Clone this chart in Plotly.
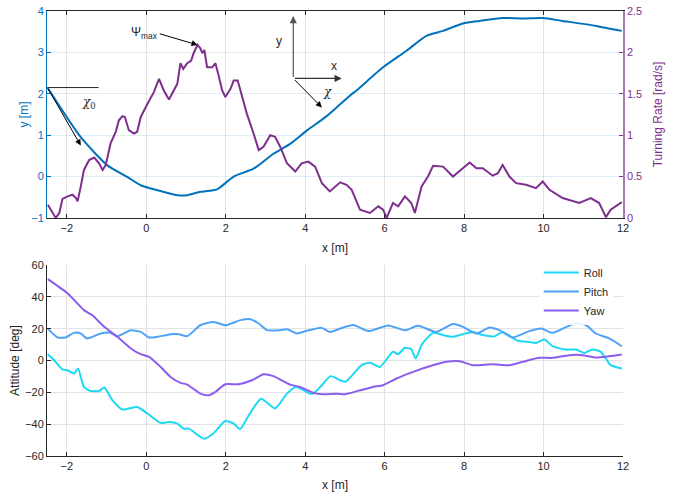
import plotly.graph_objects as go

# ---------------- data: top plot ----------------
traj_x = [-2.49, -1.65, -0.98, -0.48, -0.14, 0.28, 0.78, 1.03, 1.36, 1.78, 2.2, 2.7, 3.2, 3.62,
          4.04, 4.54, 5.13, 5.29, 5.96, 6.55, 7.05, 7.47, 7.97, 8.39, 8.97, 9.48, 9.98, 10.48,
          11.32, 11.97]
traj_y = [2.15, 0.95, 0.27, -0.01, -0.21, -0.33, -0.45, -0.45, -0.37, -0.31, 0.0, 0.19, 0.55, 0.79,
          1.11, 1.46, 1.96, 2.08, 2.64, 3.04, 3.40, 3.52, 3.70, 3.76, 3.83, 3.82, 3.83, 3.76,
          3.64, 3.52]

rate_x = [-2.48, -2.36, -2.28, -2.19, -2.11, -1.98, -1.86, -1.77, -1.73, -1.65, -1.57, -1.44, -1.31,
          -1.19, -1.10, -1.02, -0.90, -0.77, -0.69, -0.60, -0.54, -0.44, -0.31, -0.23, -0.14, 0.03,
          0.19, 0.32, 0.44, 0.57, 0.69, 0.78, 0.86, 0.93, 1.03, 1.13, 1.19, 1.29, 1.36, 1.41, 1.46,
          1.53, 1.66, 1.74, 1.82, 1.91, 1.99, 2.12, 2.20, 2.30, 2.37, 2.53, 2.70, 2.83, 2.95, 3.12,
          3.24, 3.37, 3.54, 3.75, 3.91, 4.08, 4.25, 4.42, 4.62, 4.88, 5.04, 5.17, 5.38, 5.63, 5.84,
          5.96, 6.05, 6.21, 6.34, 6.51, 6.67, 6.76, 6.93, 7.09, 7.22, 7.47, 7.72, 7.97, 8.14, 8.31,
          8.47, 8.72, 8.85, 8.97, 9.14, 9.31, 9.56, 9.81, 9.98, 10.15, 10.48, 10.90, 11.19, 11.40,
          11.57, 11.69, 11.97]
rate_v = [0.16, 0.06, 0.00, 0.06, 0.23, 0.26, 0.28, 0.24, 0.20, 0.38, 0.58, 0.70, 0.73,
          0.66, 0.58, 0.64, 0.90, 1.04, 1.18, 1.23, 1.22, 1.06, 1.02, 1.04, 1.22, 1.38,
          1.52, 1.68, 1.54, 1.43, 1.54, 1.62, 1.87, 1.80, 1.87, 1.90, 1.99, 2.09, 2.05, 1.99, 2.03,
          1.82, 1.82, 1.87, 1.72, 1.54, 1.46, 1.56, 1.66, 1.66, 1.54, 1.26, 1.02, 0.82, 0.86, 1.00,
          0.98, 0.86, 0.66, 0.56, 0.66, 0.68, 0.62, 0.42, 0.32, 0.43, 0.40, 0.34, 0.10, 0.06, 0.14,
          0.10, 0.00, 0.18, 0.14, 0.26, 0.18, 0.06, 0.38, 0.50, 0.63, 0.62, 0.50, 0.60, 0.67, 0.60,
          0.60, 0.51, 0.54, 0.64, 0.50, 0.42, 0.40, 0.36, 0.44, 0.34, 0.24, 0.18, 0.24, 0.18,
          0.01, 0.10, 0.19]

# ---------------- data: bottom plot ----------------
yaw_x = [-2.48, -1.98, -1.57, -1.36, -1.06, -0.73, -0.39, -0.14, 0.07, 0.36, 0.61, 0.86, 1.03,
         1.36, 1.57, 1.74, 1.99, 2.32, 2.66, 2.95, 3.20, 3.62, 3.87, 4.21, 4.46, 4.79, 5.0, 5.38,
         5.71, 5.96, 6.30, 6.72, 7.13, 7.55, 7.89, 8.22, 8.72, 9.14, 9.48, 9.89, 10.23, 10.65,
         10.98, 11.32, 11.65, 11.97]
yaw_v = [51.2, 42.2, 31.7, 28.5, 21.2, 14.9, 7.6, 4.0, 2.3, -4.0, -10.3, -14.0, -15.1,
         -20.8, -21.8, -19.7, -14.9, -14.9, -12.4, -8.6, -9.8, -15.1, -16.6, -20.3, -21.2, -20.8,
         -21.2, -18.7, -16.6, -15.5, -11.3, -7.1, -3.6, -0.8, -0.4, -2.9, -2.3, -2.9, -0.8, 1.7,
         1.7, 3.4, 3.4, 1.9, 2.7, 3.8]

pitch_x = [-2.48, -2.23, -2.03, -1.82, -1.65, -1.49, -1.15, -0.90, -0.73, -0.39, -0.14, 0.07, 0.28,
           0.61, 0.82, 1.03, 1.36, 1.70, 1.99, 2.37, 2.62, 2.83, 3.04, 3.37, 3.54, 3.79, 4.04,
           4.41, 4.62, 4.88, 5.21, 5.59, 6.09, 6.51, 6.84, 7.30, 7.72, 7.97, 8.31, 8.64, 8.89,
           9.22, 9.64, 9.94, 10.23, 10.78, 11.07, 11.32, 11.65, 11.97]
pitch_v = [20.1, 14.5, 14.5, 17.4, 17.0, 13.9, 17.0, 17.4, 15.3, 19.1, 18.0, 14.5, 14.9,
           16.6, 16.6, 15.3, 22.2, 24.3, 22.2, 25.4, 26.0, 23.3, 19.1, 19.1, 19.7, 17.0, 18.7,
           20.6, 18.0, 20.1, 22.3, 18.5, 22.1, 19.0, 21.8, 18.0, 22.9, 21.2, 17.0, 20.8, 19.1,
           14.5, 18.5, 20.1, 17.4, 23.3, 22.2, 17.0, 13.9, 9.0]

roll_x = [-2.48, -2.32, -2.11, -1.98, -1.82, -1.72, -1.57, -1.40, -1.19, -1.06, -0.85, -0.60, -0.23,
          0.03, 0.36, 0.57, 0.78, 0.94, 1.07, 1.45, 1.70, 1.99, 2.20, 2.36, 2.58, 2.89, 3.24,
          3.54, 3.77, 4.17, 4.42, 4.64, 4.88, 5.02, 5.42, 5.63, 5.88, 6.21, 6.34, 6.51, 6.67,
          6.78, 6.95, 7.22, 7.47, 7.72, 7.97, 8.22, 8.47, 8.77, 8.97, 9.35, 9.64, 9.81, 10.02,
          10.23, 10.56, 10.82, 11.03, 11.23, 11.44, 11.57, 11.69, 11.97]
roll_v = [4.0, 0.2, -5.6, -6.1, -8.2, -5.0, -16.6, -19.1, -19.1, -17.0, -25.0, -30.8, -29.2,
          -33.3, -39.2, -38.6, -39.6, -42.8, -42.8, -49.1, -45.5, -38.0, -39.6, -43.1, -34.4, -24.0,
          -30.1, -20.8, -16.4, -21.1, -15.5, -9.8, -12.4, -13.3, -2.9, -1.4, -4.0, 5.5, 4.0, 8.0,
          7.1, 1.3, 10.6, 17.4, 16.0, 14.9, 16.6, 18.0, 16.0, 15.3, 18.0, 12.4, 11.7, 11.1, 13.2,
          9.0, 6.9, 6.9, 4.8, 6.9, 5.5, 1.3, -2.9, -5.0]

x_ticks = [-2, 0, 2, 4, 6, 8, 10, 12]
y_ticks = [-1, 0, 1, 2, 3, 4]
rate_ticks = [0, 0.5, 1, 1.5, 2, 2.5]
att_ticks = [-60, -40, -20, 0, 20, 40, 60]

BLUE = "#0072BD"
PURPLE = "#7E2F8E"
DARK = "#262626"
GRID = "#e3e3e3"
FONT = "Liberation Sans"

fig = go.Figure()

fig.add_trace(go.Scatter(x=traj_x, y=traj_y, mode="lines", line=dict(color=BLUE, width=2, shape="spline", smoothing=0.6),
                         xaxis="x", yaxis="y", showlegend=False))
fig.add_trace(go.Scatter(x=rate_x, y=rate_v, mode="lines", line=dict(color=PURPLE, width=2),
                         xaxis="x", yaxis="y2", showlegend=False))

fig.add_trace(go.Scatter(x=roll_x, y=roll_v, mode="lines", name="Roll",
                         line=dict(color="#1BD9F2", width=2, shape="spline", smoothing=0.6),
                         xaxis="x2", yaxis="y3"))
fig.add_trace(go.Scatter(x=pitch_x, y=pitch_v, mode="lines", name="Pitch",
                         line=dict(color="#4FA3F7", width=2, shape="spline", smoothing=0.6),
                         xaxis="x2", yaxis="y3"))
fig.add_trace(go.Scatter(x=yaw_x, y=yaw_v, mode="lines", name="Yaw",
                         line=dict(color="#8A5DF0", width=2, shape="spline", smoothing=0.6),
                         xaxis="x2", yaxis="y3"))

tickfont = dict(family=FONT, size=11, color=DARK)
top_dom = [0.535, 1.0]
bot_dom = [0.0, 0.429]

fig.update_layout(
    width=684, height=494,
    margin=dict(l=47, r=61, t=11, b=38, autoexpand=False),
    paper_bgcolor="white", plot_bgcolor="white",
    font=dict(family=FONT, size=11, color=DARK),
    xaxis=dict(domain=[0, 1], anchor="y", range=[-2.5, 12], tickvals=x_ticks, automargin=False,
               showgrid=True, gridcolor=GRID, zeroline=False,
               showline=True, linecolor=DARK, linewidth=1, mirror="ticks",
               ticks="inside", ticklen=4, tickcolor=DARK, tickfont=tickfont,
               ticklabeloverflow="allow",
               title=dict(text="x [m]", font=dict(family=FONT, size=12, color=DARK), standoff=10)),
    yaxis=dict(domain=top_dom, anchor="x", range=[-1, 4], tickvals=y_ticks, automargin=False,
               showgrid=True, gridcolor="rgba(0,114,189,0.13)", zeroline=False,
               showline=True, linecolor=BLUE, linewidth=1,
               ticks="inside", ticklen=4, tickcolor=BLUE,
               tickfont=dict(family=FONT, size=11, color=BLUE),
               ticklabeloverflow="allow",
               title=dict(text="y [m]", font=dict(family=FONT, size=12, color=BLUE), standoff=0)),
    yaxis2=dict(overlaying="y", side="right", anchor="x", range=[0, 2.5], tickvals=rate_ticks, automargin=False,
                showgrid=False, zeroline=False,
                showline=True, linecolor="#A77AB3", linewidth=1.5,
                ticks="inside", ticklen=4, tickcolor=PURPLE,
                tickfont=dict(family=FONT, size=11, color=PURPLE),
                ticklabeloverflow="allow",
                title=dict(text="Turning Rate [rad/s]", font=dict(family=FONT, size=12, color=PURPLE), standoff=12)),
    xaxis2=dict(domain=[0, 1], anchor="y3", range=[-2.5, 12], tickvals=x_ticks, automargin=False,
                showgrid=True, gridcolor=GRID, zeroline=False,
                showline=True, linecolor=DARK, linewidth=1,
                ticks="inside", ticklen=4, tickcolor=DARK, tickfont=tickfont,
                ticklabeloverflow="allow",
                title=dict(text="x [m]", font=dict(family=FONT, size=12, color=DARK), standoff=9)),
    yaxis3=dict(domain=bot_dom, anchor="x2", range=[-60, 60], tickvals=att_ticks, automargin=False,
                showgrid=True, gridcolor=GRID, zeroline=False,
                showline=True, linecolor=DARK, linewidth=1,
                ticks="inside", ticklen=4, tickcolor=DARK, tickfont=tickfont,
                ticklabeloverflow="allow",
                title=dict(text="Attitude [deg]", font=dict(family=FONT, size=12, color=DARK), standoff=2)),
    legend=dict(x=0.984, y=0.445, xanchor="right", yanchor="top",
                bgcolor="rgba(255,255,255,0.9)", borderwidth=0,
                font=dict(family=FONT, size=11, color=DARK), tracegroupgap=0,
                itemwidth=35),
)

# ---- annotations on top plot ----
imax = rate_v.index(max(rate_v))
arrow = dict(showarrow=True, arrowhead=2, arrowsize=1.2, arrowwidth=1, arrowcolor="black",
             axref="x", ayref="y2", xref="x", yref="y2", text="")
# Psi_max arrow (in turning-rate coordinates)
fig.add_annotation(**arrow, x=rate_x[imax], y=rate_v[imax], ax=0.3, ay=2.23)
fig.add_annotation(x=-0.05, y=2.24, xref="x", yref="y2", showarrow=False,
                   text="Ψ<sub>max</sub>", font=dict(family=FONT, size=12, color=DARK))

arrow_y = dict(showarrow=True, arrowhead=2, arrowsize=1.2, arrowwidth=1, arrowcolor="black",
               axref="x", ayref="y", xref="x", yref="y", text="")
# chi_0 at trajectory start
fig.add_shape(type="line", xref="x", yref="y", x0=traj_x[0], y0=traj_y[0], x1=-1.2, y1=traj_y[0],
              line=dict(color=DARK, width=1))
fig.add_annotation(**arrow_y, x=-1.65, y=0.75, ax=traj_x[0], ay=traj_y[0])
fig.add_annotation(x=-1.45, y=1.78, xref="x", yref="y", showarrow=False,
                   text="<i>χ</i><sub>0</sub>", font=dict(family="DejaVu Serif", size=12, color=DARK))

# coordinate frame
ox, oy = 3.70, 2.37
fig.add_annotation(x=ox, y=3.88, ax=ox, ay=oy, xref="x", yref="y", axref="x", ayref="y", text="",
                   showarrow=True, arrowhead=2, arrowsize=1.2, arrowwidth=1.2, arrowcolor="#555555")
fig.add_annotation(x=4.92, y=oy, ax=ox, ay=oy, xref="x", yref="y", axref="x", ayref="y", text="",
                   showarrow=True, arrowhead=2, arrowsize=1.2, arrowwidth=1.2, arrowcolor="#333333")
fig.add_annotation(**arrow_y, x=4.42, y=1.67, ax=ox, ay=oy)
fig.add_annotation(x=3.35, y=3.28, xref="x", yref="y", showarrow=False, text="y",
                   font=dict(family=FONT, size=12, color=DARK))
fig.add_annotation(x=4.73, y=2.68, xref="x", yref="y", showarrow=False, text="x",
                   font=dict(family=FONT, size=12, color=DARK))
fig.add_annotation(x=4.57, y=2.05, xref="x", yref="y", showarrow=False, text="<i>χ</i>",
                   font=dict(family="DejaVu Serif", size=12, color=DARK))

fig.write_html("out.html", config={"displayModeBar": False},
               post_script="document.body.style.margin='0px';")
